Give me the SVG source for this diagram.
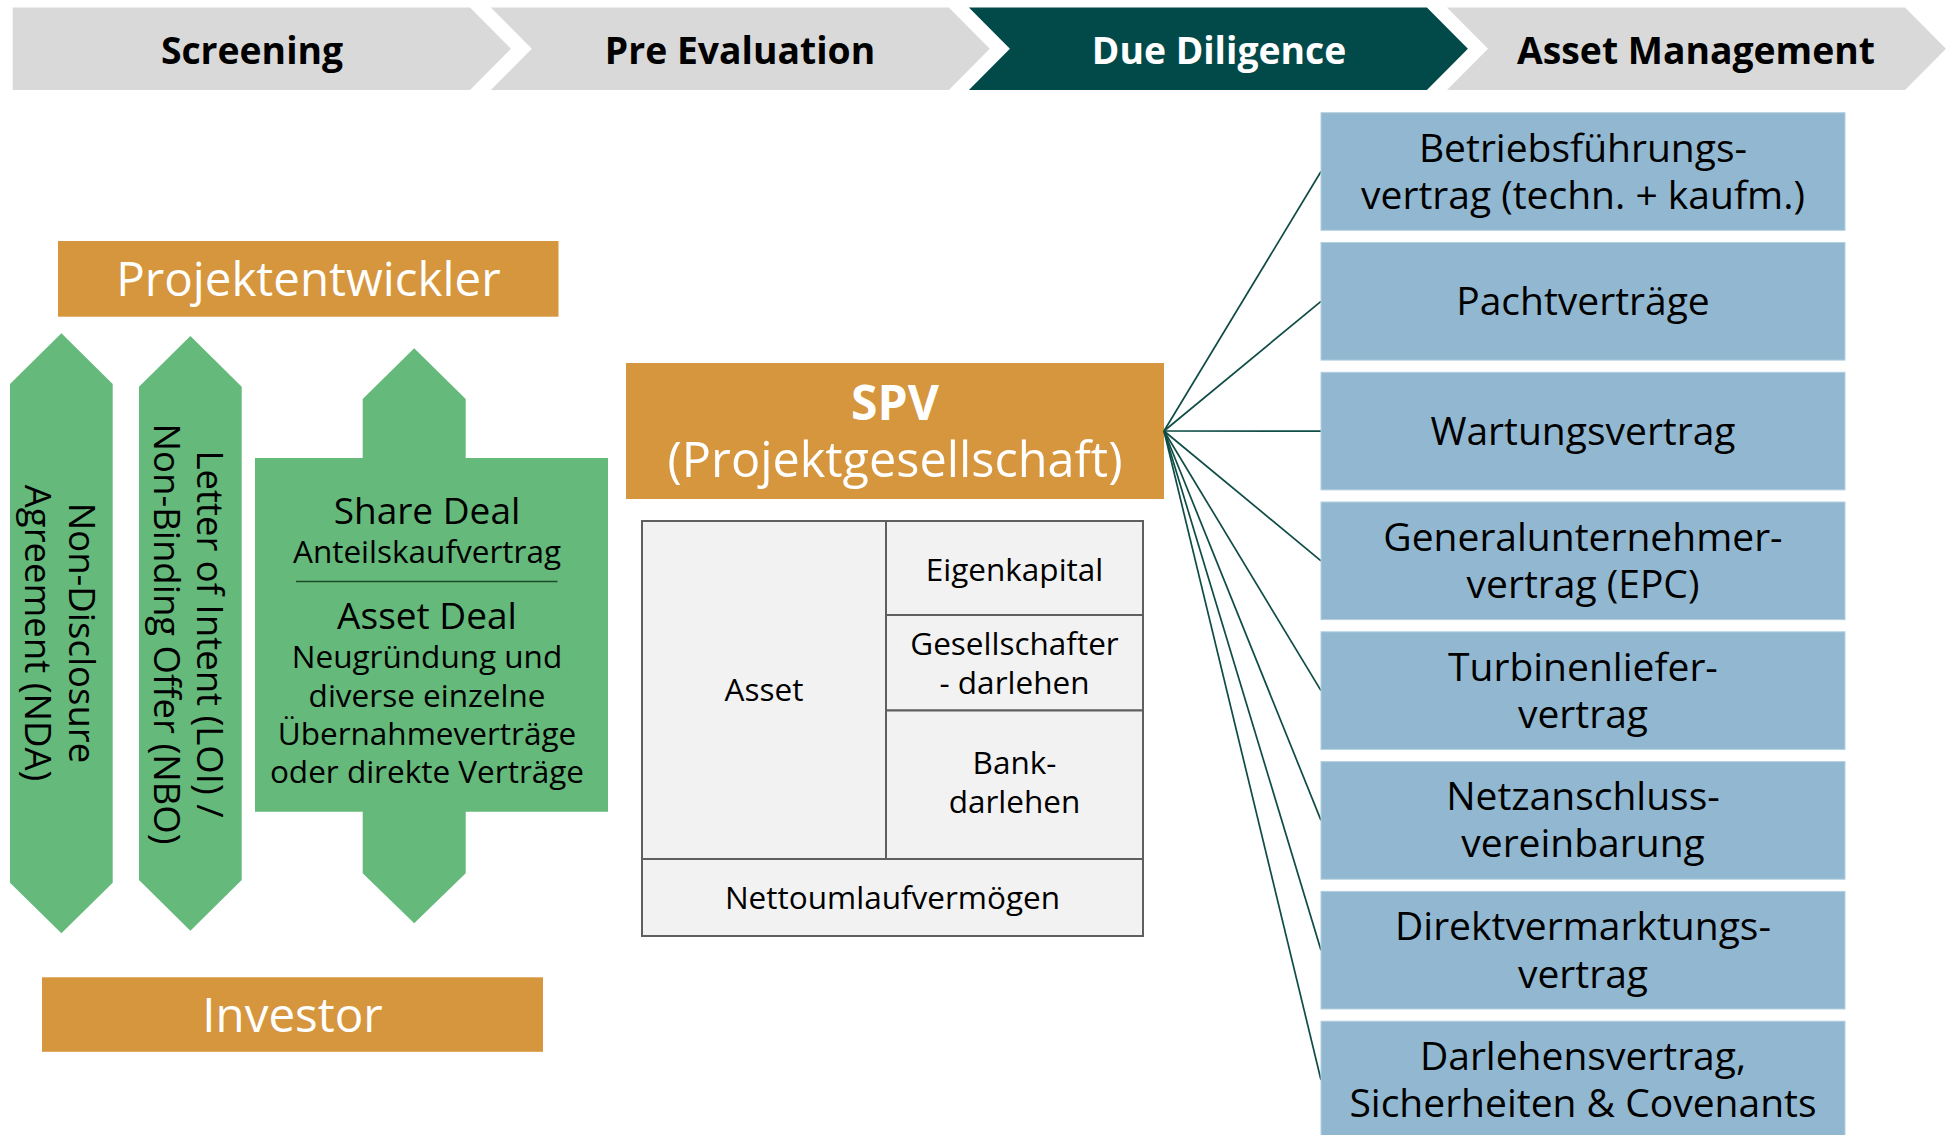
<svg xmlns="http://www.w3.org/2000/svg" width="1949" height="1135" viewBox="0 0 1949 1135">
<style>
.hd{font-family:"Open Sans","Liberation Sans",sans-serif;font-weight:700;font-size:37.3px;text-anchor:middle}
.org{fill:#d6963e}
.orgt{font-family:"Open Sans","Liberation Sans",sans-serif;font-size:47.5px;fill:#fff;text-anchor:middle}
.grn{fill:#64b97b}
.gt{font-family:"Open Sans","Liberation Sans",sans-serif;font-size:36.5px;fill:#000;text-anchor:middle}
.gb{font-family:"Open Sans","Liberation Sans",sans-serif;font-size:37px;fill:#000;text-anchor:middle}
.gs{font-family:"Open Sans","Liberation Sans",sans-serif;font-size:31.5px;fill:#000;text-anchor:middle}
.cell{fill:#f2f2f2;stroke:#5f5f5f;stroke-width:2}
.ct{font-family:"Open Sans","Liberation Sans",sans-serif;font-size:31.5px;fill:#000;text-anchor:middle}
.blue{fill:#91b8d0;stroke:#b3cfe0;stroke-width:1}
.bt{font-family:"Open Sans","Liberation Sans",sans-serif;font-size:39px;fill:#000;text-anchor:middle}
.con{stroke:#0f4c46;stroke-width:1.7;fill:none}
</style>

<g id="phases">
  <g id="phase-screening">
    <polygon points="12.7,7.5 470,7.5 511,48.7 470,90 12.7,90" fill="#d9d9d9"/>
    <text class="hd" x="252" y="64" fill="#000">Screening</text>
  </g>
  <g id="phase-pre-evaluation">
    <polygon points="490.8,7.5 948.8,7.5 989.8,48.7 948.8,90 490.8,90 531.8,48.7" fill="#d9d9d9"/>
    <text class="hd" x="740" y="64" fill="#000">Pre Evaluation</text>
  </g>
  <g id="phase-due-diligence">
    <polygon points="968.9,7.5 1426.9,7.5 1467.9,48.7 1426.9,90 968.9,90 1009.9,48.7" fill="#02494a"/>
    <text class="hd" x="1219" y="64" fill="#fff">Due Diligence</text>
  </g>
  <g id="phase-asset-management">
    <polygon points="1447,7.5 1905,7.5 1946,48.7 1905,90 1447,90 1488,48.7" fill="#d9d9d9"/>
    <text class="hd" x="1696" y="64" fill="#000">Asset Management</text>
  </g>
</g>

<g id="projektentwickler">
  <rect class="org" x="58" y="241" width="500.5" height="75.7"/>
  <text class="orgt" x="308.4" y="296">Projektentwickler</text>
</g>

<g id="investor">
  <rect class="org" x="42" y="977.3" width="501" height="74.5"/>
  <text class="orgt" x="292.5" y="1031.7">Investor</text>
</g>

<g id="nda">
  <polygon class="grn" points="61.4,333.3 112.7,384 112.7,882.7 61.4,933.3 10,882.7 10,384"/>
  <g transform="translate(61.4,633) rotate(90)">
    <text class="gt" x="0" y="-8">Non-Disclosure</text>
    <text class="gt" x="0" y="36.5">Agreement (NDA)</text>
  </g>
</g>

<g id="loi-nbo">
  <polygon class="grn" points="190.4,336 241.7,386.7 241.7,880 190.4,930.7 139,880 139,386.7"/>
  <g transform="translate(190.4,634) rotate(90)">
    <text class="gt" x="0" y="-7">Letter of Intent (LOI) /</text>
    <text class="gt" x="0" y="36.5">Non-Binding Offer (NBO)</text>
  </g>
</g>

<g id="deal">
  <path class="grn" d="M414.2,348.3 L465.7,399 L465.7,458 L608,458 L608,811.7 L465.7,811.7 L465.7,873.3 L414.2,923.3 L362.7,873.3 L362.7,811.7 L255,811.7 L255,458 L362.7,458 L362.7,399 Z"/>
  <text class="gb" x="427" y="524">Share Deal</text>
  <text class="gs" x="427" y="562.7">Anteilskaufvertrag</text>
  <line x1="296" y1="581.5" x2="557.5" y2="581.5" stroke="#1e4a2a" stroke-width="1.3"/>
  <text class="gb" x="427" y="629.3">Asset Deal</text>
  <text class="gs" x="427" y="668.3">Neugründung und</text>
  <text class="gs" x="427" y="706.7">diverse einzelne</text>
  <text class="gs" x="427" y="745">Übernahmeverträge</text>
  <text class="gs" x="427" y="782.7">oder direkte Verträge</text>
</g>

<g id="spv">
  <rect class="org" x="626" y="363" width="538" height="136"/>
  <text x="895" y="420" font-family="'Open Sans','Liberation Sans',sans-serif" font-weight="700" font-size="48" fill="#fff" text-anchor="middle">SPV</text>
  <text class="orgt" x="895" y="477" style="font-size:48.6px">(Projektgesellschaft)</text>
</g>

<g id="balance-sheet">
  <rect class="cell" x="642" y="521" width="244" height="338"/>
  <text class="ct" x="764" y="701">Asset</text>
  <rect class="cell" x="886" y="521" width="257" height="94"/>
  <text class="ct" x="1014.5" y="581">Eigenkapital</text>
  <rect class="cell" x="886" y="615" width="257" height="95.5"/>
  <text class="ct" x="1014.5" y="655">Gesellschafter</text>
  <text class="ct" x="1014.5" y="693.5">- darlehen</text>
  <rect class="cell" x="886" y="710.5" width="257" height="148.5"/>
  <text class="ct" x="1014.5" y="774">Bank-</text>
  <text class="ct" x="1014.5" y="812.6">darlehen</text>
  <rect class="cell" x="642" y="859" width="501" height="77"/>
  <text class="ct" x="892.5" y="908.5">Nettoumlaufvermögen</text>
</g>

<g id="connectors">
  <line class="con" x1="1164" y1="431" x2="1321" y2="171.5"/>
  <line class="con" x1="1164" y1="431" x2="1321" y2="301.3"/>
  <line class="con" x1="1164" y1="431" x2="1321" y2="431.1"/>
  <line class="con" x1="1164" y1="431" x2="1321" y2="560.8"/>
  <line class="con" x1="1164" y1="431" x2="1321" y2="690.6"/>
  <line class="con" x1="1164" y1="431" x2="1321" y2="820.4"/>
  <line class="con" x1="1164" y1="431" x2="1321" y2="950.2"/>
  <line class="con" x1="1164" y1="431" x2="1321" y2="1080"/>
</g>

<g id="c1">
  <rect class="blue" x="1321" y="112.7" width="524" height="117.6"/>
  <text class="bt" x="1583" y="161.5">Betriebsführungs-</text>
  <text class="bt" x="1583" y="208.5">vertrag (techn. + kaufm.)</text>
</g>
<g id="c2">
  <rect class="blue" x="1321" y="242.5" width="524" height="117.6"/>
  <text class="bt" x="1583" y="315">Pachtverträge</text>
</g>
<g id="c3">
  <rect class="blue" x="1321" y="372.3" width="524" height="117.6"/>
  <text class="bt" x="1583" y="444.8">Wartungsvertrag</text>
</g>
<g id="c4">
  <rect class="blue" x="1321" y="502" width="524" height="117.6"/>
  <text class="bt" x="1583" y="550.8">Generalunternehmer-</text>
  <text class="bt" x="1583" y="597.8">vertrag (EPC)</text>
</g>
<g id="c5">
  <rect class="blue" x="1321" y="631.8" width="524" height="117.6"/>
  <text class="bt" x="1583" y="680.6">Turbinenliefer-</text>
  <text class="bt" x="1583" y="727.6">vertrag</text>
</g>
<g id="c6">
  <rect class="blue" x="1321" y="761.6" width="524" height="117.6"/>
  <text class="bt" x="1583" y="810.4">Netzanschluss-</text>
  <text class="bt" x="1583" y="857.4">vereinbarung</text>
</g>
<g id="c7">
  <rect class="blue" x="1321" y="891.4" width="524" height="117.6"/>
  <text class="bt" x="1583" y="940.2">Direktvermarktungs-</text>
  <text class="bt" x="1583" y="987.6">vertrag</text>
</g>
<g id="c8">
  <rect class="blue" x="1321" y="1021.2" width="524" height="117.6"/>
  <text class="bt" x="1583" y="1070.3">Darlehensvertrag,</text>
  <text class="bt" x="1583" y="1117.3">Sicherheiten &amp; Covenants</text>
</g>
</svg>
